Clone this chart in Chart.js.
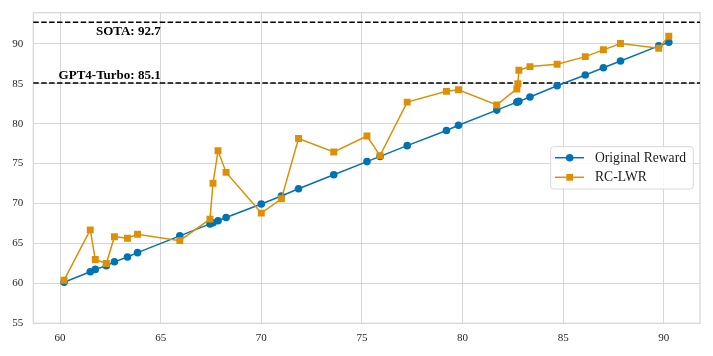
<!DOCTYPE html>
<html>
<head>
<meta charset="utf-8">
<script src="https://cdn.jsdelivr.net/npm/chart.js@4.4.1/dist/chart.umd.min.js"></script>
<style>
  html, body { margin: 0; padding: 0; background: #fff; }
  #wrap { width: 713px; height: 356px; position: relative; }
</style>
</head>
<body>
<div id="wrap"><canvas id="myChart"></canvas></div>
<script>
const blueColor = '#0173b2';
const orangeColor = '#de8f05';
const gridColor = '#d6d6d6';
const serifFont = '"Liberation Serif", "DejaVu Serif", serif';

// original reward score of each checkpoint (x axis)
const originalScore = [60.2, 61.5, 61.75, 62.3, 62.7, 63.35, 63.85, 65.95, 67.45, 67.6, 67.85, 68.25,
  70.0, 71.0, 71.85, 73.6, 75.25, 75.9, 77.25, 79.2, 79.8, 81.7, 82.7, 82.75, 82.8, 83.35,
  84.7, 86.1, 87.0, 87.85, 89.75, 90.25];
const originalReward = [60.15, 61.45, 61.75, 62.2, 62.7, 63.3, 63.85, 65.95, 67.45, 67.6, 67.85, 68.25,
  69.95, 70.95, 71.85, 73.6, 75.25, 75.9, 77.25, 79.15, 79.8, 81.7, 82.7, 82.75, 82.8, 83.35,
  84.75, 86.1, 87.0, 87.85, 89.75, 90.2];
const rcLwr = [60.4, 66.7, 63.0, 62.5, 65.85, 65.65, 66.15, 65.35, 68.05, 72.55, 76.6, 73.9,
  68.8, 70.6, 78.15, 76.45, 78.45, 76.0, 82.7, 84.05, 84.25, 82.35, 84.35, 85.0, 86.7, 87.15,
  87.45, 88.4, 89.25, 90.05, 89.45, 90.95];

const xTicks = [60, 65, 70, 75, 80, 85, 90];
const yTicks = [55, 60, 65, 70, 75, 80, 85, 90];

const refLines = [
  { label: 'SOTA: 92.7', value: 92.7, textY: 91.1 },
  { label: 'GPT4-Turbo: 85.1', value: 85.1, textY: 85.55 },
];
const refTextX = 65;

function toPoints(xs, ys) {
  return xs.map((x, i) => ({ x: x, y: ys[i] }));
}

// dashed reference lines + their labels, frame around the plot
const refPlugin = {
  id: 'refLines',
  beforeDatasetsDraw(chart) {
    const ctx = chart.ctx;
    const area = chart.chartArea;
    const xs = chart.scales.x;
    const ys = chart.scales.y;
    ctx.save();
    ctx.strokeStyle = gridColor;
    ctx.lineWidth = 1.25;
    ctx.strokeRect(area.left, area.top, area.right - area.left, area.bottom - area.top);
    ctx.strokeStyle = '#000';
    ctx.lineWidth = 1.5;
    ctx.setLineDash([5.5, 2.4]);
    for (let r of refLines) {
      const py = ys.getPixelForValue(r.value);
      ctx.beginPath();
      ctx.moveTo(area.left, py);
      ctx.lineTo(area.right, py);
      ctx.stroke();
    }
    ctx.setLineDash([]);
    ctx.fillStyle = '#000';
    ctx.font = 'bold 13px ' + serifFont;
    ctx.textAlign = 'right';
    ctx.textBaseline = 'alphabetic';
    for (let r of refLines) {
      ctx.fillText(r.label, xs.getPixelForValue(refTextX), ys.getPixelForValue(r.textY));
    }
    ctx.restore();
  },
};

// legend box inside the plot, like matplotlib's
const legendPlugin = {
  id: 'boxLegend',
  afterDraw(chart) {
    const ctx = chart.ctx;
    const area = chart.chartArea;
    const right = area.right - 6.7;
    const left = right - 142.6;
    const top = 146.7;
    const h = 42.3;
    ctx.save();
    ctx.beginPath();
    ctx.roundRect(left, top, right - left, h, 3);
    ctx.fillStyle = 'rgba(255,255,255,0.85)';
    ctx.fill();
    ctx.strokeStyle = '#d9d9d9';
    ctx.lineWidth = 1;
    ctx.stroke();
    const items = chart.data.datasets;
    items.forEach((ds, i) => {
      const cy = top + 11 + i * 19.6;
      ctx.strokeStyle = ds.borderColor;
      ctx.lineWidth = 1.5;
      ctx.beginPath();
      ctx.moveTo(left + 4.3, cy);
      ctx.lineTo(left + 33.3, cy);
      ctx.stroke();
      ctx.fillStyle = ds.backgroundColor;
      const mx = left + 19;
      if (ds.pointStyle === 'rect') {
        ctx.fillRect(mx - 3.4, cy - 3.4, 6.8, 6.8);
      } else {
        ctx.beginPath();
        ctx.arc(mx, cy, 3.8, 0, Math.PI * 2);
        ctx.fill();
      }
      ctx.fillStyle = '#1a1a1a';
      ctx.font = '13.6px ' + serifFont;
      ctx.textAlign = 'left';
      ctx.textBaseline = 'middle';
      ctx.fillText(ds.label, left + 44.3, cy + 0.5);
    });
    ctx.restore();
  },
};

var ctx = document.getElementById('myChart');
var lineChart = new Chart(ctx, {
  type: 'scatter',
  data: {
    datasets: [
      {
        label: 'Original Reward',
        data: toPoints(originalScore, originalReward),
        showLine: true,
        borderColor: blueColor,
        backgroundColor: blueColor,
        borderWidth: 1.5,
        pointStyle: 'circle',
        pointRadius: 3.8,
        pointBorderWidth: 0,
        order: 1,
      },
      {
        label: 'RC-LWR',
        data: toPoints(originalScore, rcLwr),
        showLine: true,
        borderColor: orangeColor,
        backgroundColor: orangeColor,
        borderWidth: 1.5,
        pointStyle: 'rect',
        pointRadius: 4.9,
        pointBorderWidth: 0,
        order: 0,
      },
    ],
  },
  options: {
    responsive: true,
    maintainAspectRatio: false,
    animation: false,
    layout: { padding: { top: 12.7, right: 13, bottom: 0, left: 0 } },
    plugins: {
      legend: { display: false },
      tooltip: { enabled: false },
    },
    scales: {
      x: {
        type: 'linear',
        min: 58.67,
        max: 91.8,
        afterBuildTicks: (s) => { s.ticks = xTicks.map((v) => ({ value: v })); },
        afterFit: (s) => { s.height = 32.7; s.paddingLeft = 0; s.paddingRight = 0; },
        grid: { color: gridColor, lineWidth: 1, drawTicks: false },
        border: { display: false },
        ticks: {
          padding: 8,
          color: '#262626',
          font: { family: serifFont, size: 11 },
          maxRotation: 0,
        },
      },
      y: {
        type: 'linear',
        min: 55,
        max: 93.9,
        afterBuildTicks: (s) => { s.ticks = yTicks.map((v) => ({ value: v })); },
        afterFit: (s) => { s.width = 33.3; s.paddingTop = 0; s.paddingBottom = 0; },
        grid: { color: gridColor, lineWidth: 1, drawTicks: false },
        border: { display: false },
        ticks: {
          padding: 10,
          color: '#262626',
          font: { family: serifFont, size: 11 },
        },
      },
    },
  },
  plugins: [refPlugin, legendPlugin],
});
</script>
</body>
</html>
